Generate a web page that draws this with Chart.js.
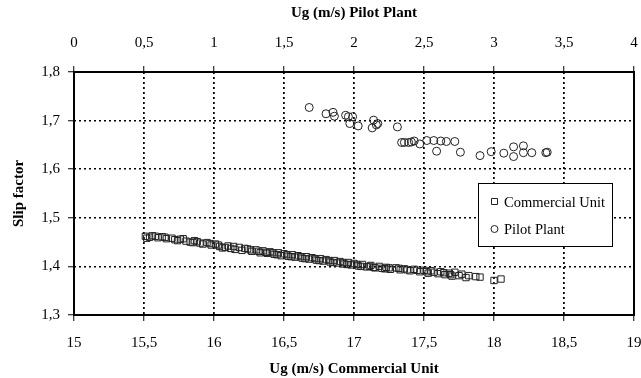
<!DOCTYPE html>
<html>
<head>
<meta charset="utf-8">
<script src="https://cdn.jsdelivr.net/npm/chart.js@4.4.1/dist/chart.umd.min.js"></script>
<style>
  html, body { margin: 0; padding: 0; background: #fff; }
  #wrap { width: 641px; height: 378px; }
</style>
</head>
<body>
<div id="wrap"><canvas id="slipChart" width="641" height="378"></canvas></div>
<script>
// commercial unit: gas velocity (m/s) vs slip factor
const commercialUg = [
  15.51, 15.54, 15.56, 15.60, 15.63, 15.66, 15.70, 15.72, 15.76, 15.80,
  15.83, 15.86, 15.90, 15.92, 15.95, 15.98, 16.01, 16.04, 16.06, 16.10,
  16.12, 16.15, 16.18, 16.20, 16.24, 16.27, 16.30, 16.33, 16.35, 16.38,
  16.40, 16.43, 16.46, 16.48, 16.50, 16.53, 16.56, 16.58, 16.60, 16.63,
  16.66, 16.68, 16.70, 16.73, 16.76, 16.78, 16.80, 16.83, 16.86, 16.88,
  16.90, 16.93, 16.96, 16.98, 17.00, 17.03, 17.06, 17.09, 17.12, 17.15,
  17.18, 17.20, 17.23, 17.26, 17.30, 17.33, 17.36, 17.40, 17.43, 17.47,
  17.50, 17.53, 17.57, 17.60, 17.62, 17.65, 17.68, 17.70, 17.72, 17.77,
  17.80, 17.82, 17.87, 17.90, 18.00, 18.05,
  15.52, 15.58, 15.65, 15.74, 15.78, 15.85, 15.88, 15.97, 16.03, 16.08,
  16.14, 16.22, 16.26, 16.32, 16.37, 16.42, 16.45, 16.52, 16.55, 16.62,
  16.65, 16.72, 16.75, 16.82, 16.85, 16.92, 16.95, 17.02, 17.05, 17.11,
  17.14, 17.22, 17.25, 17.32, 17.38, 17.45, 17.52, 17.55, 17.64, 17.69,
  17.75
];
const commercialSlip = [
  1.462, 1.460, 1.463, 1.459, 1.461, 1.457, 1.458, 1.455, 1.456, 1.452,
  1.450, 1.453, 1.448, 1.446, 1.449, 1.444, 1.446, 1.441, 1.438, 1.442,
  1.437, 1.435, 1.439, 1.433, 1.436, 1.431, 1.434, 1.428, 1.432, 1.427,
  1.430, 1.425, 1.428, 1.422, 1.426, 1.421, 1.424, 1.419, 1.422, 1.417,
  1.420, 1.415, 1.418, 1.413, 1.416, 1.411, 1.414, 1.409, 1.412, 1.407,
  1.410, 1.405, 1.408, 1.403, 1.406, 1.401, 1.404, 1.399, 1.402, 1.397,
  1.400, 1.396, 1.398, 1.394, 1.397, 1.393, 1.395, 1.391, 1.394, 1.389,
  1.392, 1.386, 1.388, 1.385, 1.389, 1.383, 1.386, 1.380, 1.388, 1.384,
  1.377, 1.381, 1.379, 1.378, 1.371, 1.374,
  1.458, 1.462, 1.460, 1.453, 1.457, 1.449, 1.451, 1.447, 1.444, 1.439,
  1.441, 1.437, 1.434, 1.431, 1.429, 1.428, 1.424, 1.424, 1.420, 1.420,
  1.416, 1.416, 1.412, 1.412, 1.408, 1.408, 1.404, 1.404, 1.400, 1.400,
  1.398, 1.395, 1.397, 1.396, 1.393, 1.392, 1.389, 1.391, 1.387, 1.383,
  1.381
];

// pilot plant: gas velocity (m/s) vs slip factor
const pilotUg = [
  1.68, 1.80, 1.85, 1.86, 1.94, 1.96, 1.99, 1.97, 2.03, 2.14,
  2.17, 2.13, 2.16, 2.31, 2.34, 2.36, 2.39, 2.41, 2.43, 2.47,
  2.52, 2.57, 2.62, 2.66, 2.72, 2.59, 2.76, 2.90, 2.98, 3.07,
  3.14, 3.14, 3.21, 3.21, 3.27, 3.37, 3.38
];
const pilotSlip = [
  1.727, 1.714, 1.717, 1.709, 1.711, 1.708, 1.708, 1.694, 1.689, 1.701,
  1.694, 1.685, 1.691, 1.687, 1.655, 1.655, 1.655, 1.656, 1.658, 1.652,
  1.659, 1.659, 1.658, 1.657, 1.657, 1.637, 1.635, 1.628, 1.636, 1.633,
  1.646, 1.626, 1.648, 1.634, 1.634, 1.634, 1.635
];

const bottomTicks = [15, 15.5, 16, 16.5, 17, 17.5, 18, 18.5, 19];
const topTicks = [0, 0.5, 1, 1.5, 2, 2.5, 3, 3.5, 4];
const slipTicks = [1.3, 1.4, 1.5, 1.6, 1.7, 1.8];

const SERIF = "'Liberation Serif', 'DejaVu Serif', serif";
const comma = v => String(Math.round(v * 10) / 10).replace(".", ",");

function toPoints(xs, ys) {
  return xs.map((x, i) => ({ x, y: ys[i] }));
}

function gridAxis(pad, extra) {
  return Object.assign({
    grid: {
      color: "#000",
      lineWidth: 1.5,
      drawTicks: true,
      tickLength: 6,
      tickColor: "#000",
      tickWidth: 1,
      tickBorderDash: []
    },
    border: { display: false, dash: [2, 3] },
    ticks: {
      color: "#000",
      padding: pad,
      font: { family: SERIF, size: 15 },
      callback: v => comma(v)
    }
  }, extra);
}

// fixed box size; let end labels spill past the plot instead of shrinking it
function fixHeight(h) {
  return s => { s.height = h; s.paddingLeft = 0; s.paddingRight = 0; };
}

// solid frame around the plot area
const frame = {
  id: "frame",
  afterDatasetsDraw(chart) {
    const { ctx, chartArea: a } = chart;
    ctx.save();
    ctx.strokeStyle = "#000";
    ctx.lineWidth = 2;
    ctx.strokeRect(a.left, a.top, a.right - a.left, a.bottom - a.top);
    ctx.restore();
  }
};

// boxed legend sitting inside the plot
const boxLegend = {
  id: "boxLegend",
  afterDraw(chart) {
    const { ctx } = chart;
    const x0 = 478, y0 = 183, w = 134, h = 63;
    ctx.save();
    ctx.fillStyle = "#fff";
    ctx.fillRect(x0, y0, w, h);
    ctx.strokeStyle = "#000";
    ctx.lineWidth = 1;
    ctx.strokeRect(x0 + 0.5, y0 + 0.5, w, h);
    ctx.font = "14.5px " + SERIF;
    ctx.fillStyle = "#000";
    ctx.textBaseline = "middle";
    chart.data.datasets.forEach((ds, i) => {
      const cy = y0 + 19 + i * 27;
      ctx.lineWidth = 1;
      ctx.strokeStyle = "#222";
      ctx.beginPath();
      if (ds.pointStyle === "rect") ctx.rect(491.5, cy - 3.5, 6, 6);
      else ctx.arc(494.5, cy, 3.5, 0, Math.PI * 2);
      ctx.stroke();
      ctx.fillText(ds.label, 504, cy + 1);
    });
    ctx.restore();
  }
};

new Chart(document.getElementById("slipChart"), {
  type: "scatter",
  data: {
    datasets: [
      {
        label: "Commercial Unit",
        data: toPoints(commercialUg, commercialSlip),
        xAxisID: "x",
        pointStyle: "rect",
        pointRadius: 4.5,
        borderWidth: 1,
        borderColor: "#222",
        backgroundColor: "rgba(0,0,0,0)"
      },
      {
        label: "Pilot Plant",
        data: toPoints(pilotUg, pilotSlip),
        xAxisID: "x2",
        pointStyle: "circle",
        pointRadius: 4,
        borderWidth: 1,
        borderColor: "#222",
        backgroundColor: "rgba(0,0,0,0)"
      }
    ]
  },
  options: {
    responsive: false,
    animation: false,
    layout: { padding: { left: 0, right: 7, top: 0, bottom: 0 } },
    plugins: { legend: { display: false }, tooltip: { enabled: false } },
    scales: {
      x: gridAxis(13, {
        type: "linear",
        position: "bottom",
        min: 15, max: 19,
        afterBuildTicks: s => { s.ticks = bottomTicks.map(value => ({ value })); },
        afterFit: fixHeight(63),
        title: {
          display: true, text: "Ug (m/s) Commercial Unit", color: "#000",
          font: { family: SERIF, size: 15, weight: "bold" }, padding: { top: 4, bottom: 0 }
        }
      }),
      x2: gridAxis(14, {
        type: "linear",
        position: "top",
        min: 0, max: 4,
        afterBuildTicks: s => { s.ticks = topTicks.map(value => ({ value })); },
        afterFit: fixHeight(72),
        title: {
          display: true, text: "Ug (m/s) Pilot Plant", color: "#000",
          font: { family: SERIF, size: 15, weight: "bold" }, padding: { top: 4, bottom: 8 }
        }
      }),
      y: gridAxis(8, {
        type: "linear",
        min: 1.3, max: 1.8,
        afterBuildTicks: s => { s.ticks = slipTicks.map(value => ({ value })); },
        afterFit: s => { s.width = 74; s.paddingTop = 0; s.paddingBottom = 0; },
        title: {
          display: true, text: "Slip factor", color: "#000",
          font: { family: SERIF, size: 15, weight: "bold" }, padding: { top: 10, bottom: 6 }
        }
      })
    }
  },
  plugins: [frame, boxLegend]
});
</script>
</body>
</html>
